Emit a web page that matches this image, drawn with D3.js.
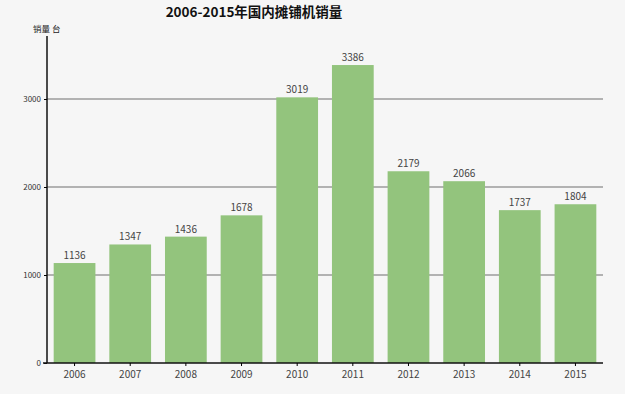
<!DOCTYPE html>
<html><head><meta charset="utf-8">
<script src="https://cdn.jsdelivr.net/npm/d3@7"></script>
<style>body{margin:0;background:#f6f6f6;}svg{display:block;}</style>
</head><body>
<script>
const years = ["2006","2007","2008","2009","2010","2011","2012","2013","2014","2015"];
const sales = [1136,1347,1436,1678,3019,3386,2179,2066,1737,1804];
const yTicks = [0,1000,2000,3000];
const title = "2006-2015年国内摊铺机销量";
const yLabel = "销量 台";

const W=625,H=394;
const svg=d3.select("body").append("svg").attr("width",W).attr("height",H);
svg.append("rect").attr("width",W).attr("height",H).attr("fill","#f6f6f6");
const font="'Noto Sans CJK SC','Noto Sans',sans-serif";
const x=d3.scaleBand().domain(years).range([47,603]).paddingInner(0.25).paddingOuter(0.12);
const y=d3.scaleLinear().domain([0,3716]).range([363,36]);

// gridlines
svg.append("g").selectAll("line").data(yTicks.filter(d=>d>0)).join("line")
 .attr("x1",47).attr("x2",603).attr("y1",d=>y(d)).attr("y2",d=>y(d))
 .attr("stroke","#6e6e6e").attr("stroke-width",1);

svg.append("g").selectAll("rect").data(sales).join("rect")
 .attr("x",(d,i)=>x(years[i])).attr("width",x.bandwidth())
 .attr("y",d=>y(d)).attr("height",d=>y(0)-y(d)).attr("fill","#93c47d");

svg.append("g").selectAll("text").data(sales).join("text")
 .attr("x",(d,i)=>x(years[i])+x.bandwidth()/2).attr("y",d=>y(d)-4)
 .attr("text-anchor","middle").attr("font-family",font).attr("font-size",10).attr("fill","#444")
 .text(d=>d);

const yAxis=svg.append("g").attr("transform","translate(47,0)")
 .call(d3.axisLeft(y).tickValues(yTicks).tickSize(3).tickFormat(d3.format("d")));
yAxis.select(".domain").attr("d","M0,36V363").attr("stroke","#111").attr("stroke-width",1.5);
yAxis.selectAll("text").attr("font-family",font).attr("font-size",8).attr("fill","#333");

const xAxis=svg.append("g").attr("transform","translate(0,363)")
 .call(d3.axisBottom(x).tickSize(3).tickSizeOuter(0));
xAxis.select(".domain").attr("d","M43,0H603").attr("stroke","#111").attr("stroke-width",1.5);
xAxis.selectAll("text").attr("font-family",font).attr("font-size",10).attr("fill","#444").attr("dy","0.9em");

svg.append("text").attr("x",254).attr("y",17).attr("text-anchor","middle")
 .attr("font-family",font).attr("font-weight","bold").attr("font-size",13.5).attr("fill","#111").text(title);
svg.append("text").attr("x",33).attr("y",32).attr("font-family",font).attr("font-size",8.5).attr("fill","#222").text(yLabel);
</script>
</body></html>
